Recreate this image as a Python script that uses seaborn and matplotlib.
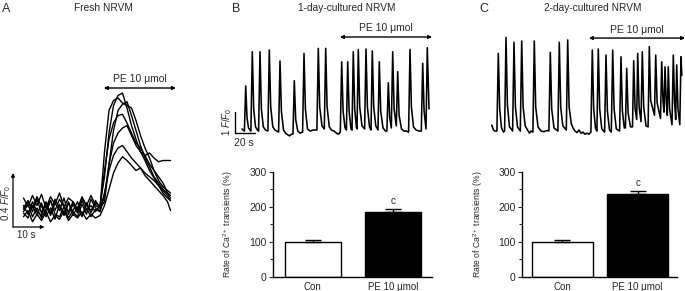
import numpy as np
import pandas as pd
import seaborn as sns
import matplotlib
matplotlib.use("Agg")
from matplotlib import pyplot as plt
from matplotlib.ticker import MultipleLocator

# --- данные: панель A (7 записей, свежие NRVM) ---
t_a = [3.5, 5, 6.5, 8, 9.5, 11, 12.5, 14, 15.5, 17, 18.5, 20, 21.5, 23, 24.5, 26, 27.5, 29,
       30.5, 32, 33.5, 35, 36.5, 38, 39.5, 41, 42.5, 44, 45.5, 47, 48.5, 50, 51.5, 52.5]
trace_a1 = [1.00, 1.06, 0.97, 1.07, 0.96, 1.05, 0.94, 1.04, 0.98, 1.08, 0.95, 1.03, 0.96, 1.06, 0.98, 1.02, 0.97, 1.02,
            1.25, 1.60, 1.82, 1.90, 1.92, 1.80, 1.66, 1.55, 1.45, 1.38, 1.30, 1.24, 1.18, 1.14, 1.10, 1.06]
trace_a2 = [0.96, 0.92, 1.02, 0.94, 1.04, 0.93, 1.00, 0.91, 1.03, 0.95, 1.05, 0.94, 1.01, 0.93, 1.04, 0.96, 1.06, 1.00,
            1.45, 1.78, 1.86, 1.88, 1.84, 1.82, 1.80, 1.70, 1.58, 1.48, 1.40, 1.30, 1.22, 1.17, 1.14, 1.12]
trace_a3 = [1.08, 1.01, 1.10, 1.02, 1.11, 1.00, 1.09, 1.03, 1.12, 1.01, 1.08, 1.05, 0.99, 1.09, 1.02, 1.10, 1.02, 1.00,
            1.05, 1.35, 1.62, 1.78, 1.83, 1.85, 1.74, 1.62, 1.50, 1.40, 1.33, 1.25, 1.20, 1.15, 1.12, 1.10]
trace_a4 = [0.97, 1.03, 0.93, 1.00, 0.92, 0.99, 1.06, 0.95, 0.93, 1.01, 0.92, 0.98, 1.05, 0.94, 1.00, 0.93, 0.99, 0.97,
            1.10, 1.35, 1.52, 1.60, 1.64, 1.66, 1.58, 1.50, 1.45, 1.42, 1.44, 1.40, 1.37, 1.38, 1.38, 1.38]
trace_a5 = [0.93, 0.98, 0.89, 0.95, 0.90, 0.97, 0.89, 0.94, 0.91, 0.98, 0.90, 0.95, 0.92, 0.97, 0.91, 0.95, 0.92, 0.94,
            1.02, 1.15, 1.28, 1.36, 1.41, 1.38, 1.34, 1.30, 1.32, 1.28, 1.25, 1.22, 1.18, 1.12, 1.08, 1.06]
trace_a6 = [1.02, 0.95, 1.05, 0.97, 0.94, 1.04, 0.96, 1.07, 1.00, 0.94, 1.04, 0.97, 0.93, 1.03, 0.95, 1.07, 1.00, 0.98,
            1.12, 1.30, 1.42, 1.48, 1.50, 1.45, 1.40, 1.36, 1.32, 1.26, 1.22, 1.18, 1.14, 1.10, 1.05, 0.98]
trace_a7 = [0.99, 1.05, 1.00, 1.09, 1.01, 0.96, 1.06, 0.98, 1.07, 1.01, 0.97, 1.05, 0.98, 1.08, 1.02, 0.98, 1.04, 1.01,
            1.30, 1.55, 1.68, 1.74, 1.75, 1.68, 1.60, 1.52, 1.48, 1.42, 1.35, 1.30, 1.25, 1.20, 1.12, 1.08]

# --- панель B: 1 день культуры (время, F/F0) ---
trace_b = [(2, 1.05), (4.4, 0.95), (5.7, 3.10), (7.0, 1.6), (8.5, 1.1), (10.9, 0.95),
           (12.3, 4.73), (13.7, 2.0), (15.5, 1.15), (17.5, 1.0), (18.6, 0.95),
           (20.0, 4.73), (21.4, 2.0), (23.3, 1.15), (25.5, 1.0), (27.9, 0.95),
           (29.3, 4.81), (30.7, 2.1), (32.8, 1.15), (35, 1.0), (38.6, 0.9),
           (40.0, 4.29), (41.4, 1.9), (43.5, 1.0), (45.5, 0.85), (47.5, 0.78), (49.5, 0.72), (51.5, 0.8), (53, 0.82),
           (54.3, 3.35), (55.7, 1.5), (57.8, 0.95), (60, 0.85), (62.6, 0.9),
           (64.0, 4.65), (65.4, 2.0), (67.5, 1.05), (70, 0.95), (73, 1.0), (76.9, 1.0),
           (78.3, 4.89), (79.7, 2.1), (82, 1.2), (84.3, 1.05),
           (85.7, 4.89), (87.1, 2.1), (89.3, 1.15), (91.5, 1.0), (94, 0.95), (96.5, 0.85), (98.5, 0.8), (100.3, 0.9),
           (101.7, 4.25), (103.1, 1.9), (105, 1.1), (106.4, 1.0),
           (107.7, 4.25), (109.1, 1.9), (111, 1.05), (112.0, 1.0),
           (113.3, 4.73), (114.7, 2.0), (116.5, 1.1), (117.0, 1.05),
           (118.3, 4.84), (119.7, 2.1), (122, 1.2), (124.6, 1.05),
           (126.0, 4.86), (127.4, 2.1), (129.5, 1.15), (131.0, 1.0),
           (132.3, 4.77), (133.7, 2.1), (135.8, 1.2), (138.0, 1.0),
           (139.3, 4.25), (140.7, 1.9), (143, 1.1), (145.5, 0.95), (146.9, 0.95),
           (148.3, 3.25), (149.7, 1.6), (151.3, 1.1),
           (152.7, 4.73), (154.1, 2.0), (156.3, 1.2),
           (157.7, 3.78), (159.1, 1.7), (161.5, 1.05), (164, 0.95), (166.5, 0.95), (168.6, 0.9),
           (170.0, 4.84), (171.4, 2.1), (173.5, 1.15), (176, 1.0), (179, 0.95), (181.3, 0.95),
           (182.7, 4.18), (184.1, 1.9), (186, 1.05),
           (187.3, 4.92), (189, 2.0)]

# --- панель C: 2 дня культуры (время, F/F0) ---
trace_c = [(1.7, 1.24), (3.5, 1.0), (5, 0.95), (6.9, 0.95), (8.3, 4.65), (9.7, 2.0), (11.5, 1.1), (13.5, 0.9), (14.6, 0.95),
           (16.0, 5.41), (17.4, 2.2), (19.5, 1.15), (22.6, 0.95),
           (24.0, 5.18), (25.4, 2.1), (27.5, 1.15), (30.3, 0.95),
           (31.7, 5.24), (33.1, 2.1), (35.2, 1.2), (37.5, 1.0), (39.5, 0.85), (41, 0.95), (42.9, 0.9),
           (44.3, 5.24), (45.7, 2.1), (48, 1.15), (51, 0.95), (54, 0.92), (57, 0.98), (58.9, 0.95),
           (60.3, 4.70), (61.7, 2.0), (64, 1.1), (67.9, 0.95),
           (69.3, 5.18), (70.7, 2.1), (72.8, 1.2), (76.3, 1.0),
           (77.7, 5.29), (79.1, 2.1), (81.3, 1.3), (83, 1.1), (85, 0.95), (87, 0.88), (89, 1.0), (91, 0.85),
           (93, 0.9), (95, 0.8), (97, 0.85), (99, 0.8), (100.9, 0.9),
           (102.3, 4.81), (103.7, 2.0), (105.5, 1.1), (106.9, 0.95),
           (108.3, 4.86), (109.7, 2.0), (111.8, 1.05), (114.6, 0.9),
           (116.0, 4.57), (117.4, 1.9), (119.5, 1.0), (121.3, 0.9),
           (122.7, 4.81), (124.1, 2.0), (126.3, 1.05), (129.6, 0.95),
           (131.0, 4.49), (132.4, 1.9), (134.3, 1.1), (135.4, 1.1),
           (136.7, 3.94), (138.1, 1.8), (140.5, 1.15), (142.5, 1.15),
           (143.7, 4.30), (145.1, 2.0), (146.7, 1.5),
           (147.7, 4.65), (149.1, 2.1), (151.0, 1.4),
           (152.3, 4.73), (153.7, 2.1), (156, 1.2), (158.1, 1.15),
           (159.3, 4.97), (160.7, 2.4), (164.5, 1.7),
           (165.7, 4.57), (167.1, 2.3), (170.5, 1.55),
           (171.7, 4.25), (173, 2.4), (174, 1.85),
           (175.0, 4.01), (176.3, 2.3), (177.3, 1.7),
           (178.3, 4.01), (179.6, 2.0), (182, 1.25),
           (183.3, 4.57), (184.6, 2.3), (185.7, 1.5),
           (186.7, 4.10), (188, 2.0), (189.8, 1.25),
           (191.0, 4.49), (191.8, 3.6)]

# начало PE (с) и конец записи
pe_a = (30.3, 54.3)
pe_b = (100, 192)
pe_c = (99, 195)

# --- столбцы: частота Ca2+ транзиентов (%) ---
bar_groups = ['Con', 'PE 10 μmol']
rate_b = [100, 185]
err_b = [4, 8]
rate_c = [100, 235]
err_c = [4, 10]

sns.set_style('white')
plt.rcParams['font.family'] = ['Liberation Sans', 'DejaVu Sans']
plt.rcParams['mathtext.fontset'] = 'custom'
plt.rcParams['mathtext.rm'] = 'Liberation Sans'
plt.rcParams['mathtext.it'] = 'Liberation Sans:italic'

W, H = 685, 291
fig = plt.figure(figsize=(W / 100, H / 100), dpi=100)


def px_axes(x0, y0, x1, y1):
    return fig.add_axes([x0 / W, 1 - y1 / H, (x1 - x0) / W, (y1 - y0) / H])


def trace_axes(ax):
    ax.set_axis_off()
    ax.patch.set_alpha(0)


def pe_arrow(ax, start, end, y_arrow, y_text):
    ax.annotate('', xy=(end, y_arrow), xytext=(start, y_arrow),
                arrowprops=dict(arrowstyle='<|-|>', color='black', lw=1, mutation_scale=5,
                                shrinkA=0, shrinkB=0), annotation_clip=False)
    ax.text((start + end) / 2, y_text, 'PE 10 μmol', ha='center', va='center', fontsize=7.5)


# ---------- A ----------
axA = px_axes(0, 70, 185, 240)
df_a = pd.DataFrame({
    't': t_a * 7,
    'f': trace_a1 + trace_a2 + trace_a3 + trace_a4 + trace_a5 + trace_a6 + trace_a7,
    'rec': np.repeat(np.arange(7), len(t_a)),
})
sns.lineplot(data=df_a, x='t', y='f', units='rec', estimator=None, color='black', lw=1.0, ax=axA)
axA.set_xlim(-4.33, 57.33)
axA.set_ylim(0.744, 2.104)
trace_axes(axA)
pe_arrow(axA, pe_a[0], pe_a[1], 1.96, 2.035)
axA.annotate('', xy=(0, 1.28), xytext=(0, 0.848),
             arrowprops=dict(arrowstyle='-|>', color='black', lw=0.9, mutation_scale=5, shrinkA=0, shrinkB=0),
             annotation_clip=False)
axA.annotate('', xy=(10.5, 0.848), xytext=(0, 0.848),
             arrowprops=dict(arrowstyle='-|>', color='black', lw=0.9, mutation_scale=5, shrinkA=0, shrinkB=0),
             annotation_clip=False)
axA.text(4.3, 0.78, '10 s', ha='center', va='center', fontsize=7)
axA.text(-2.4, 1.04, '0.4 $F/F_0$', ha='center', va='center', rotation=90, fontsize=7)

# ---------- B trace ----------
axB = px_axes(222, 20, 435, 150)
tb, fb = np.array(trace_b).T
sns.lineplot(x=tb, y=fb, sort=False, estimator=None, color='black', lw=1.15, ax=axB)
axB.set_xlim(-18, 195)
axB.set_ylim(0.048, 6.24)
trace_axes(axB)
pe_arrow(axB, pe_b[0], pe_b[1], 5.43, 5.86)
axB.plot([-5, -5, 15], [1.84, 0.84, 0.84], color='black', lw=1, clip_on=False)
axB.text(4, 0.38, '20 s', ha='center', va='center', fontsize=7.5)
axB.text(-13, 1.4, '1 $F/F_0$', ha='center', va='center', rotation=90, fontsize=7)

# ---------- C trace ----------
axC = px_axes(482, 20, 685, 150)
tc, fc = np.array(trace_c).T
sns.lineplot(x=tc, y=fc, sort=False, estimator=None, color='black', lw=1.15, ax=axC)
axC.set_xlim(-8, 195)
axC.set_ylim(0.048, 6.24)
trace_axes(axC)
pe_arrow(axC, pe_c[0], pe_c[1], 5.38, 5.74)


# ---------- bars ----------
def bar_panel(ax, vals, errs, width, xlim, label_x):
    sns.barplot(x=bar_groups, y=vals, hue=bar_groups, palette=['white', 'black'], saturation=1,
                edgecolor='black', linewidth=1, width=width, legend=False, ax=ax)
    ax.errorbar([0, 1], vals, yerr=[[0, 0], errs], fmt='none', ecolor='black',
                elinewidth=1, capsize=6, capthick=1)
    ax.text(1, vals[1] + errs[1] + 8, 'c', ha='center', va='bottom', fontsize=7)
    ax.set_xlim(*xlim)
    ax.set_ylim(0, 300)
    sns.despine(ax=ax)
    for s in ('left', 'bottom'):
        ax.spines[s].set_linewidth(1)
        ax.spines[s].set_color('black')
    ax.yaxis.set_major_locator(MultipleLocator(100))
    ax.yaxis.set_minor_locator(MultipleLocator(50))
    ax.tick_params(axis='y', which='major', length=3, width=0.8, pad=1.5, labelsize=7.5, left=True)
    ax.tick_params(axis='y', which='minor', length=2, width=0.8, left=True)
    ax.tick_params(axis='x', length=0, pad=4, labelsize=7)
    ax.set_xlabel('')
    ax.set_ylabel('Rate of Ca$^{2+}$ transients (%)', fontsize=6.2)
    ax.yaxis.set_label_coords(label_x, 0.5)


axBb = px_axes(272.7, 171.7, 431.7, 276.7)
bar_panel(axBb, rate_b, err_b, 0.7, (-0.5, 1.48), -37.7 / 159)
axCb = px_axes(521.7, 171.7, 676.7, 276.7)
bar_panel(axCb, rate_c, err_c, 0.81, (-0.54, 1.52), -36.7 / 155)

# ---------- titles and letters ----------
fig.text(6 / W, 1 - 9 / H, 'A', fontsize=9, ha='center', va='center')
fig.text(236 / W, 1 - 9 / H, 'B', fontsize=9, ha='center', va='center')
fig.text(484 / W, 1 - 9 / H, 'C', fontsize=9, ha='center', va='center')
fig.text(103 / W, 1 - 8 / H, 'Fresh NRVM', fontsize=7.3, ha='center', va='center')
fig.text(347 / W, 1 - 8 / H, '1-day-cultured NRVM', fontsize=7.3, ha='center', va='center')
fig.text(593 / W, 1 - 8 / H, '2-day-cultured NRVM', fontsize=7.3, ha='center', va='center')

fig.savefig('out.png', dpi=100)
